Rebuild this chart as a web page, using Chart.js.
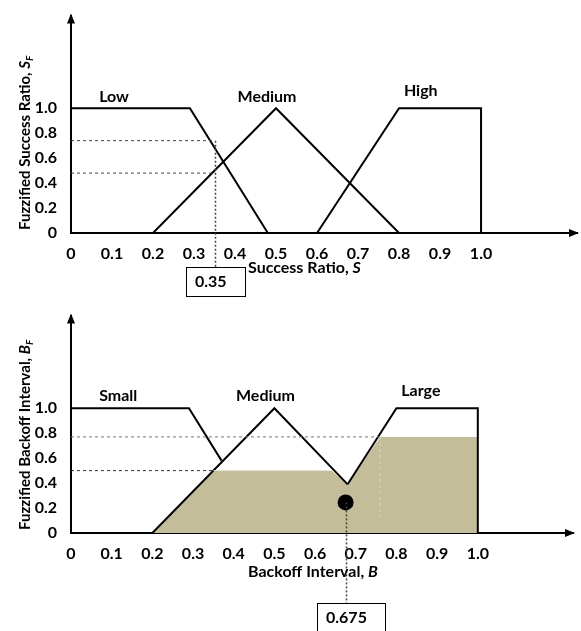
<!DOCTYPE html>
<html>
<head>
<meta charset="utf-8">
<script src="https://cdn.jsdelivr.net/npm/chart.js@4.4.1/dist/chart.umd.min.js"></script>
<style>
html, body { margin: 0; padding: 0; background: #fff; }
#wrap { position: relative; width: 581px; height: 631px; overflow: hidden; }
.panel { position: absolute; left: 0; width: 581px; }
</style>
</head>
<body>
<div id="wrap">
  <div class="panel" style="top:0;height:300px"><canvas id="ratioChart" width="581" height="300"></canvas></div>
  <div class="panel" style="top:300px;height:331px"><canvas id="backoffChart" width="581" height="331"></canvas></div>
</div>
<script>
// axis ticks (both panels)
const xTicks = [0, 0.1, 0.2, 0.3, 0.4, 0.5, 0.6, 0.7, 0.8, 0.9, 1.0];
const yTicks = [0, 0.2, 0.4, 0.6, 0.8, 1.0];

// success ratio membership functions
const lowX = [0, 0.29, 0.48];
const lowY = [1, 1, 0];
const medX = [0.2, 0.5, 0.8];
const medY = [0, 1, 0];
const highX = [0.6, 0.8, 1.0, 1.0];
const highY = [0, 1, 1, 0];
const ratioInput = 0.35;
const lowGrade = 0.74;
const medGrade = 0.48;

// backoff interval membership functions
const smallX = [0, 0.29, 0.37];
const smallY = [1, 1, 0.58];
const medBX = [0.2, 0.5, 0.68];
const medBY = [0, 1, 0.39];
const largeX = [0.68, 0.8, 1.0, 1.0];
const largeY = [0.39, 1, 1, 0];
const aggX = [0.2, 0.35, 0.64, 0.68, 0.76, 1.0, 1.0];
const aggY = [0, 0.5, 0.5, 0.39, 0.77, 0.77, 0];
const cutMed = 0.5;
const cutLarge = 0.77;
const centroidX = 0.675;
const centroidY = 0.245;

const FONT = 'Lato';
const SHADE = '#c4bd9a';

function line(xs, ys, extra) {
    return Object.assign({
        data: xs.map((v, i) => ({ x: v, y: ys[i] })),
        showLine: true, borderColor: '#000', borderWidth: 2,
        pointRadius: 0, fill: false, tension: 0, order: 1
    }, extra || {});
}

function dashed(xs, ys, color) {
    return line(xs, ys, { borderWidth: 1, borderDash: [3, 3], borderColor: color || '#444', order: 0 });
}

function scales(xHeight) {
    return {
        x: {
            type: 'linear', min: 0, max: 1.234,
            grid: { display: false },
            border: { display: true, color: '#000', width: 2 },
            afterBuildTicks: s => { s.ticks = xTicks.map(v => ({ value: v })); },
            afterFit: s => { s.height = xHeight; },
            ticks: {
                padding: 3, color: '#000', autoSkip: false, maxRotation: 0,
                font: { family: FONT, size: 16, weight: 'bold' },
                callback: v => v === 0 ? '0' : v.toFixed(1)
            }
        },
        y: {
            type: 'linear', min: 0, max: 1.742,
            grid: { display: false },
            border: { display: true, color: '#000', width: 2 },
            afterBuildTicks: s => { s.ticks = yTicks.map(v => ({ value: v })); },
            afterFit: s => { s.width = 71; },
            ticks: {
                padding: 6, color: '#000',
                font: { family: FONT, size: 16, weight: 'bold' },
                callback: v => v === 0 ? '0' : v.toFixed(1)
            }
        }
    };
}

// draws arrows, set names, the crisp value box and the axis titles
const fuzzyDecor = {
    id: 'fuzzyDecor',
    afterDatasetsDraw(chart, args, opts) {
        const { ctx, chartArea: a, scales: { x, y } } = chart;
        ctx.save();
        ctx.fillStyle = '#000';
        ctx.beginPath();
        ctx.moveTo(a.left, a.top - 2); ctx.lineTo(a.left - 4, a.top + 8); ctx.lineTo(a.left + 4, a.top + 8);
        ctx.closePath(); ctx.fill();
        ctx.beginPath();
        ctx.moveTo(a.right + 2, a.bottom); ctx.lineTo(a.right - 8, a.bottom - 4); ctx.lineTo(a.right - 8, a.bottom + 4);
        ctx.closePath(); ctx.fill();

        ctx.font = `bold 16px ${FONT}`;
        ctx.textAlign = 'center';
        ctx.textBaseline = 'middle';
        opts.labels.forEach(l => ctx.fillText(l.text, x.getPixelForValue(l.x), y.getPixelForValue(l.y)));

        // drop line + value box
        const px = Math.round(x.getPixelForValue(opts.drop.x)) + 0.5;
        ctx.strokeStyle = '#444';
        ctx.lineWidth = 1.5;
        ctx.setLineDash([2, 2]);
        ctx.beginPath();
        ctx.moveTo(px, y.getPixelForValue(opts.drop.from));
        ctx.lineTo(px, opts.drop.boxTop);
        ctx.stroke();
        ctx.setLineDash([]);
        const txt = opts.drop.text;
        ctx.font = `bold 16px ${FONT}`;
        const tw = ctx.measureText(txt).width;
        const bx = Math.round(px - 30);
        ctx.strokeStyle = '#000';
        ctx.lineWidth = 1;
        ctx.fillStyle = '#fff';
        ctx.fillRect(bx, opts.drop.boxTop, tw + 27, 29);
        ctx.strokeRect(bx + 0.5, opts.drop.boxTop + 0.5, Math.round(tw + 27), 29);
        ctx.fillStyle = '#000';
        ctx.textAlign = 'left';
        ctx.fillText(txt, bx + 9, opts.drop.boxTop + 15);

        // x title: plain part + italic symbol
        ctx.textBaseline = 'middle';
        ctx.font = `bold 16px ${FONT}`;
        let tx = 248;
        ctx.fillText(opts.xTitle[0], tx, opts.xTitleY);
        tx += ctx.measureText(opts.xTitle[0]).width;
        ctx.font = `italic bold 16px ${FONT}`;
        ctx.fillText(opts.xTitle[1], tx, opts.xTitleY);

        // y title, rotated, with subscript
        ctx.translate(30, 230);
        ctx.rotate(-Math.PI / 2);
        ctx.textBaseline = 'alphabetic';
        ctx.font = `bold 15px ${FONT}`;
        let ty = 0;
        ctx.fillText(opts.yTitle[0], ty, 0);
        ty += ctx.measureText(opts.yTitle[0]).width;
        ctx.font = `italic bold 15px ${FONT}`;
        ctx.fillText(opts.yTitle[1], ty, 0);
        ty += ctx.measureText(opts.yTitle[1]).width;
        ctx.font = `italic bold 10px ${FONT}`;
        ctx.fillText(opts.yTitle[2], ty, 3);
        ctx.restore();
    }
};

const common = {
    responsive: false,
    animation: false,
    events: [],
    layout: { padding: { left: 0, top: 10, right: 4, bottom: 0 } }
};

new Chart(document.getElementById('ratioChart'), {
    type: 'scatter',
    data: {
        datasets: [
            line(lowX, lowY),
            line(medX, medY),
            line(highX, highY),
            dashed([0, ratioInput], [lowGrade, lowGrade]),
            dashed([0, ratioInput], [medGrade, medGrade])
        ]
    },
    options: Object.assign({}, common, {
        scales: scales(67),
        plugins: {
            legend: { display: false },
            tooltip: { enabled: false },
            fuzzyDecor: {
                labels: [
                    { text: 'Low', x: 0.105, y: 1.09 },
                    { text: 'Medium', x: 0.478, y: 1.09 },
                    { text: 'High', x: 0.853, y: 1.14 }
                ],
                drop: { x: ratioInput, from: lowGrade, boxTop: 267, text: String(ratioInput) },
                xTitle: ['Success Ratio, ', 'S'],
                xTitleY: 268,
                yTitle: ['Fuzzified Success Ratio, ', 'S', 'F']
            }
        }
    }),
    plugins: [fuzzyDecor]
});

new Chart(document.getElementById('backoffChart'), {
    type: 'scatter',
    data: {
        datasets: [
            line(aggX, aggY, { borderWidth: 0, backgroundColor: SHADE, fill: 'origin', order: 5 }),
            line(smallX, smallY),
            line(medBX, medBY),
            line(largeX, largeY),
            dashed([0, 0.76], [cutLarge, cutLarge], '#777'),
            dashed([0, 0.35], [cutMed, cutMed], '#333'),
            dashed([0.35, 0.64], [cutMed, cutMed], '#e6e4dc'),
            dashed([0.76, 0.76], [cutLarge, 0.13], '#d8d4c4'),
            {
                data: [{ x: centroidX, y: centroidY }],
                showLine: false, pointRadius: 8, pointBackgroundColor: '#000',
                pointBorderWidth: 0, order: 0
            }
        ]
    },
    options: Object.assign({}, common, {
        scales: scales(98),
        plugins: {
            legend: { display: false },
            tooltip: { enabled: false },
            fuzzyDecor: {
                labels: [
                    { text: 'Small', x: 0.116, y: 1.10 },
                    { text: 'Medium', x: 0.478, y: 1.10 },
                    { text: 'Large', x: 0.86, y: 1.14 }
                ],
                drop: { x: centroidX, from: centroidY, boxTop: 303, text: String(centroidX) },
                xTitle: ['Backoff Interval, ', 'B'],
                xTitleY: 272,
                yTitle: ['Fuzzified Backoff Interval, ', 'B', 'F']
            }
        }
    }),
    plugins: [fuzzyDecor]
});
</script>
</body>
</html>
